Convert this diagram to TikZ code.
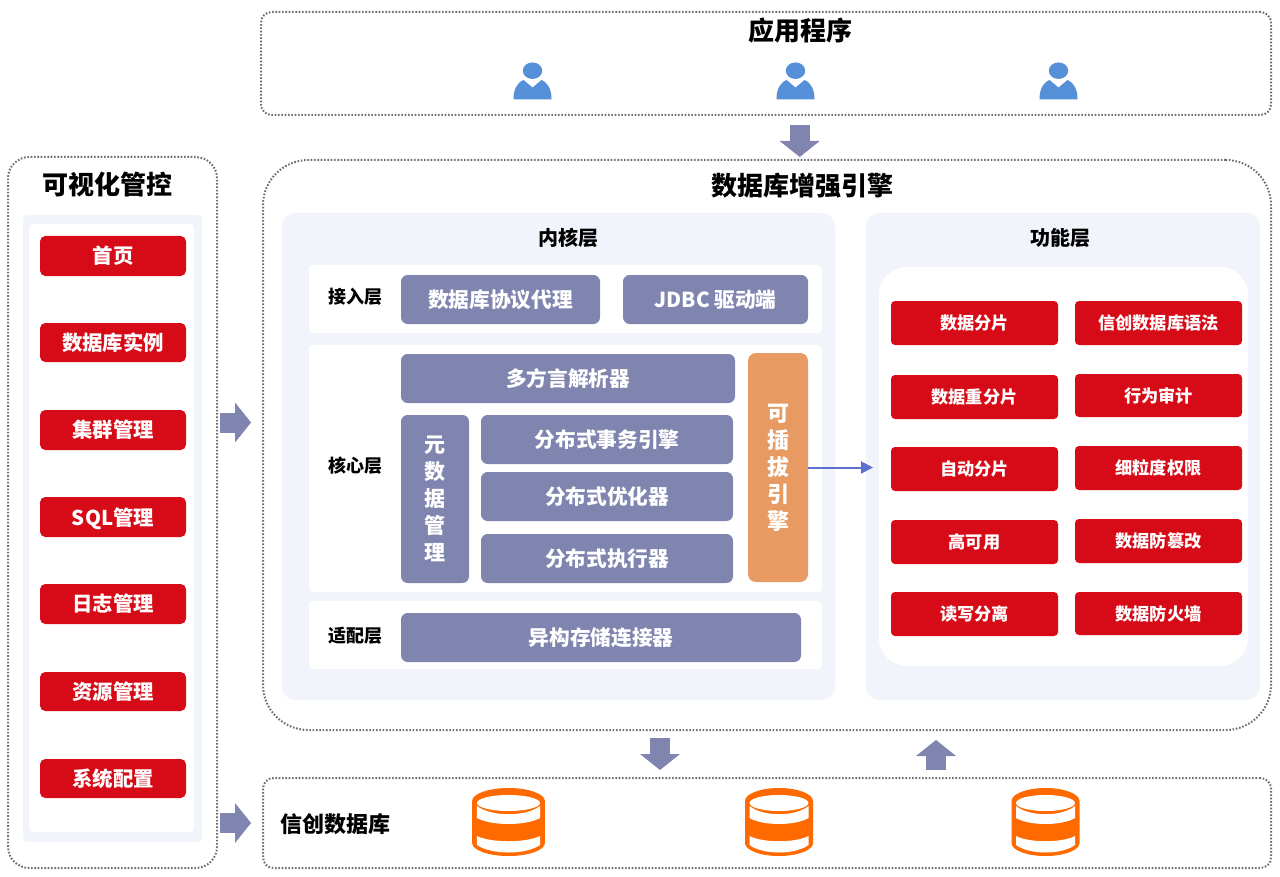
\documentclass[tikz,border=0pt]{standalone}
\usepackage{fontspec}
\setmainfont{Noto Sans CJK SC}
\usetikzlibrary{arrows.meta}
\definecolor{panelbg}{HTML}{F1F4FB}
\definecolor{brandred}{HTML}{D60B17}
\definecolor{slate}{HTML}{8085AF}
\definecolor{amber}{HTML}{E79B62}
\definecolor{dotline}{HTML}{6E6E6E}
\definecolor{userblue}{HTML}{5590D9}
\definecolor{dborange}{HTML}{FF6A00}
\definecolor{linkblue}{HTML}{5F6FD0}
\tikzset{
  x=0.75pt, y=-0.75pt,
  every node/.style={inner sep=0pt, outer sep=0pt, align=center},
  frame/.style={draw=dotline, line width=1.5pt, dash pattern=on 1.2pt off 1.3pt, fill=white},
  panel/.style={fill=panelbg, rounded corners=10pt},
  whitecard/.style={fill=white, rounded corners=3pt},
  redbtn/.style={fill=brandred, text=white, rounded corners=4pt, font=\fontsize{15.3pt}{19pt}\selectfont\bfseries},
  redfn/.style={fill=brandred, text=white, rounded corners=3pt, font=\fontsize{12.9pt}{16pt}\selectfont\bfseries},
  slatebox/.style={fill=slate, text=white, rounded corners=5pt, font=\fontsize{15.5pt}{19pt}\selectfont\bfseries},
  enginebox/.style={fill=amber, rounded corners=6pt},
  bigtitle/.style={font=\fontsize{19.5pt}{23pt}\selectfont\bfseries},
  midtitle/.style={font=\fontsize{15pt}{18pt}\selectfont\bfseries},
  rowlabel/.style={font=\fontsize{13.5pt}{16pt}\selectfont\bfseries},
  blockarrow/.style={draw=slate, line width=15pt, -{Triangle[length=12pt,width=30pt,line width=0pt]}},
  thinlink/.style={draw=linkblue, line width=1.5pt, -{Triangle[length=9pt,width=9pt]}},
}
% box given by its corners, in pixel units
\newcommand{\pxbox}[7][]{%
  \node[#7, #1, minimum width={(#4-#2)*0.75pt}, minimum height={(#5-#3)*0.75pt}]
    (#6) at ({(#2+#4)/2},{(#3+#5)/2}) {};}
\newcommand{\pxtext}[8][]{%
  \node[#7, #1, minimum width={(#4-#2)*0.75pt}, minimum height={(#5-#3)*0.75pt}]
    (#6) at ({(#2+#4)/2},{(#3+#5)/2}) {#8};}
% user icon
\newcommand{\usericon}[1]{%
  \begin{scope}[shift={(#1,0)}]
    \fill[userblue] (0,70.7) ellipse [x radius=7.3pt, y radius=6.2pt];
    \fill[userblue] (-19,99.3) .. controls (-19,90) and (-16,83) .. (-9,80) -- (0,87.5) -- (9,80)
      .. controls (16,83) and (19,90) .. (19,99.3) -- cycle;
  \end{scope}}
% database barrel icon: centre x, width factor
\newcommand{\dbicon}[2]{%
  \begin{scope}[shift={(#1,0)}, xscale=#2]
    \fill[dborange] (-34,801) -- (-34,843) arc [start angle=180, end angle=360, x radius=25.5pt, y radius=9.75pt]
       -- (34,801) arc [start angle=0, end angle=180, x radius=25.5pt, y radius=9.75pt] -- cycle;
    \fill[white] (-29.5,803) arc [start angle=180, end angle=360, x radius=22.1pt, y radius=6pt]
                 arc [start angle=0, end angle=180, x radius=22.1pt, y radius=6pt] -- cycle;
    \fill[white] (-29.5,806) .. controls (-16,817) and (16,817) .. (29.5,806)
       -- (29.5,818) .. controls (16,826) and (-16,826) .. (-29.5,818) -- cycle;
    \fill[white] (-29.5,836) .. controls (-16,843) and (16,843) .. (29.5,836)
       -- (29.5,845) .. controls (16,855) and (-16,855) .. (-29.5,845) -- cycle;
  \end{scope}}

\begin{document}
\begin{tikzpicture}
\useasboundingbox (0,0) rectangle (1280,877);
\fill[white] (0,0) rectangle (1280,877);

% outer dotted frames
\pxbox{261}{12}{1271}{115}{apps}{frame, rounded corners=8pt}
\pxbox{263}{160}{1271}{730}{enginebig}{frame, rounded corners=34pt}
\pxbox{8}{157}{217}{868}{console}{frame, rounded corners=16pt}
\pxbox{263}{778}{1271}{868}{storage}{frame, rounded corners=8pt}

\node[bigtitle] (appstitle) at (800,31) {应用程序};
\usericon{532.5}
\usericon{795.5}
\usericon{1058.5}
\node[bigtitle] (enginetitle) at (802,186) {数据库增强引擎};
\node[bigtitle] (consoletitle) at (107,185) {可视化管控};
\node[font=\fontsize{16.5pt}{20pt}\selectfont\bfseries] (storagetitle) at (335,824) {信创数据库};
\dbicon{508.5}{1.07}
\dbicon{779}{1}
\dbicon{1045.5}{1}

% management console column
\pxbox{23}{215}{202}{842}{consolebg}{panel, rounded corners=3pt}
\pxbox{29}{224}{194}{832}{consolecard}{whitecard}
\pxtext{40}{236}{186}{276}{m1}{redbtn}{首页}
\pxtext{40}{323}{186}{362}{m2}{redbtn}{数据库实例}
\pxtext{40}{410}{186}{450}{m3}{redbtn}{集群管理}
\pxtext[text depth=0.1em]{40}{497}{186}{537}{m4}{redbtn}{SQL管理}
\pxtext{40}{584}{186}{624}{m5}{redbtn}{日志管理}
\pxtext{40}{672}{186}{711}{m6}{redbtn}{资源管理}
\pxtext{40}{759}{186}{798}{m7}{redbtn}{系统配置}

% kernel layer
\pxbox{282}{213}{835}{700}{kernel}{panel}
\node[midtitle] (kerneltitle) at (568,238) {内核层};
\pxbox{309}{265}{822}{333}{rowa}{whitecard}
\pxbox{309}{345}{822}{592}{rowb}{whitecard}
\pxbox{309}{601}{822}{669}{rowc}{whitecard}
\node[rowlabel] (la) at (355.5,297) {接入层};
\node[rowlabel] (lb) at (355.5,466) {核心层};
\node[rowlabel] (lc) at (355.5,636) {适配层};
\pxtext{401}{275}{600}{324}{proxy}{slatebox}{数据库协议代理}
\pxtext{623}{275}{808}{324}{jdbc}{slatebox}{JDBC 驱动端}
\pxtext{401}{354}{735}{403}{parser}{slatebox}{多方言解析器}
\pxtext{401}{415}{469}{583}{meta}{slatebox, font=\fontsize{15.75pt}{20.25pt}\selectfont\bfseries}{元\\数\\据\\管\\理}
\pxtext{481}{415}{733}{464}{txn}{slatebox}{分布式事务引擎}
\pxtext{481}{472}{733}{521}{opt}{slatebox}{分布式优化器}
\pxtext{481}{534}{733}{583}{exec}{slatebox}{分布式执行器}
\pxbox{748}{353}{808}{582}{plug}{enginebox}
\node[text=white, font=\fontsize{16.5pt}{20.25pt}\selectfont\bfseries] (plugtext) at (778,468) {可\\插\\拔\\引\\擎};
\pxtext{401}{613}{801}{662}{hetero}{slatebox}{异构存储连接器}

% function layer
\pxbox{866}{213}{1260}{700}{funcs}{panel}
\node[midtitle] (funcstitle) at (1060,238) {功能层};
\pxbox{879}{267}{1248}{666}{funccard}{whitecard, rounded corners=21pt}
\pxtext{891}{301}{1058}{345}{f1}{redfn}{数据分片}
\pxtext{891}{375}{1058}{419}{f2}{redfn}{数据重分片}
\pxtext{891}{447}{1058}{491}{f3}{redfn}{自动分片}
\pxtext{891}{520}{1058}{564}{f4}{redfn}{高可用}
\pxtext{891}{592}{1058}{636}{f5}{redfn}{读写分离}
\pxtext{1075}{301}{1242}{345}{g1}{redfn}{信创数据库语法}
\pxtext{1075}{374}{1242}{417}{g2}{redfn}{行为审计}
\pxtext{1075}{446}{1242}{490}{g3}{redfn}{细粒度权限}
\pxtext{1075}{519}{1242}{563}{g4}{redfn}{数据防篡改}
\pxtext{1075}{592}{1242}{635}{g5}{redfn}{数据防火墙}

% connectors
\coordinate (fnin) at (873,467.5);
\draw[thinlink] (plug) -- (fnin);
\coordinate (a1s) at (799.7,125); \coordinate (a1e) at (799.7,157);
\coordinate (a2s) at (220,422.5); \coordinate (a2e) at (251,422.5);
\coordinate (a3s) at (220,823); \coordinate (a3e) at (251,823);
\coordinate (a4s) at (660,738); \coordinate (a4e) at (660,770);
\coordinate (a5s) at (936,770); \coordinate (a5e) at (936,740);
\draw[blockarrow] (a1s) -- (a1e);
\draw[blockarrow] (a2s) -- (a2e);
\draw[blockarrow] (a3s) -- (a3e);
\draw[blockarrow] (a4s) -- (a4e);
\draw[blockarrow] (a5s) -- (a5e);
\end{tikzpicture}
\end{document}
